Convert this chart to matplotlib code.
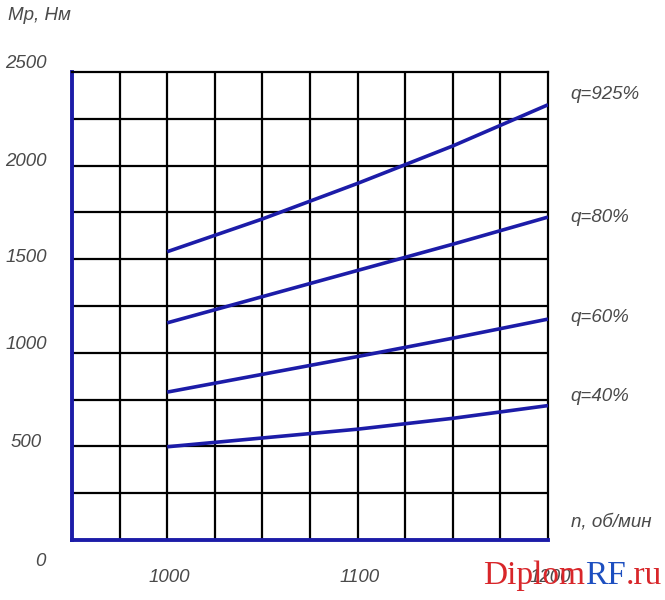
import matplotlib
matplotlib.use('Agg')
import matplotlib.pyplot as plt
import numpy as np

# частота вращения, об/мин
n = [1000, 1050, 1100, 1150, 1200]

# момент Мр, Нм, при разной подаче топлива q
q_labels = ['q=925%', 'q=80%', 'q=60%', 'q=40%']
Mp = [
    [1540, 1715, 1905, 2105, 2325],
    [1160, 1300, 1440, 1580, 1725],
    [790, 885, 980, 1078, 1180],
    [498, 545, 592, 650, 718],
]

yticks = [0, 500, 1000, 1500, 2000, 2500]
xticks = [1000, 1100, 1200]

BLUE = '#1c1ca8'
GRAY = '#4a4a4a'
font = ['Liberation Sans', 'DejaVu Sans']
FS = 13.5

fig = plt.figure(figsize=(6.65, 6.0), dpi=100)
ax = fig.add_axes([72/665, 60/600, 476/665, 468/600])
ax.set_xlim(950, 1200)
ax.set_ylim(0, 2500)

# сетка
for xv in np.arange(975, 1200, 25):
    ax.axvline(xv, color='black', lw=1.6, zorder=1)
for yv in np.arange(250, 2500, 250):
    ax.axhline(yv, color='black', lw=1.6, zorder=1)

for s in ['top', 'right']:
    ax.spines[s].set_color('black')
    ax.spines[s].set_linewidth(1.6)
for s in ['left', 'bottom']:
    ax.spines[s].set_color(BLUE)
    ax.spines[s].set_linewidth(2.8)
ax.set_xticks([])
ax.set_yticks([])

for vals in Mp:
    ax.plot(n, vals, color=BLUE, lw=2.6, zorder=3, solid_capstyle='butt')

# подписи кривых справа
q_dy = [10, 0, 2, 9]
for lab, vals, dy in zip(q_labels, Mp, q_dy):
    ax.annotate(lab, xy=(1, vals[-1]), xycoords=('axes fraction', 'data'),
                xytext=(22, dy), textcoords='offset pixels', ha='left', va='center',
                fontsize=FS, style='italic', color=GRAY, family=font)

# подписи оси Y
y_dy = [-22, 4, 8, 2, 4, 9]
for v, dy in zip(yticks, y_dy):
    xo = -32 if v == 0 else -46
    ax.annotate(str(v), xy=(0, v), xycoords=('axes fraction', 'data'),
                xytext=(xo, dy), textcoords='offset pixels', ha='center', va='center',
                fontsize=FS, style='italic', color=GRAY, family=font)

# подписи оси X
for v in xticks:
    ax.annotate(str(v), xy=(v, 0), xycoords=('data', 'axes fraction'),
                xytext=(2, -37), textcoords='offset pixels', ha='center', va='center',
                fontsize=FS, style='italic', color=GRAY, family=font)

fig.text(8/665, 1 - 16/600, 'Мр, Нм', ha='left', va='center', fontsize=FS,
         style='italic', color=GRAY, family=font)
fig.text(571/665, 1 - 522/600, 'n, об/мин', ha='left', va='center', fontsize=FS,
         style='italic', color=GRAY, family=font)

# водяной знак
wm = fig.text(483/665, 1 - 576/600, 'Diplom', ha='left', va='center', fontsize=24,
              color='#d8262a', family=['Liberation Serif', 'DejaVu Serif'])
fig.canvas.draw()
r = fig.canvas.get_renderer()
bb = wm.get_window_extent(r)
wm2 = fig.text(bb.x1 / 665, 1 - 576/600, 'RF', ha='left', va='center', fontsize=24,
               color='#1d4fc0', family=['Liberation Serif', 'DejaVu Serif'])
bb2 = wm2.get_window_extent(r)
fig.text(bb2.x1 / 665, 1 - 576/600, '.ru', ha='left', va='center', fontsize=24,
         color='#d8262a', family=['Liberation Serif', 'DejaVu Serif'])

fig.savefig('out.png', dpi=100, facecolor='white')
